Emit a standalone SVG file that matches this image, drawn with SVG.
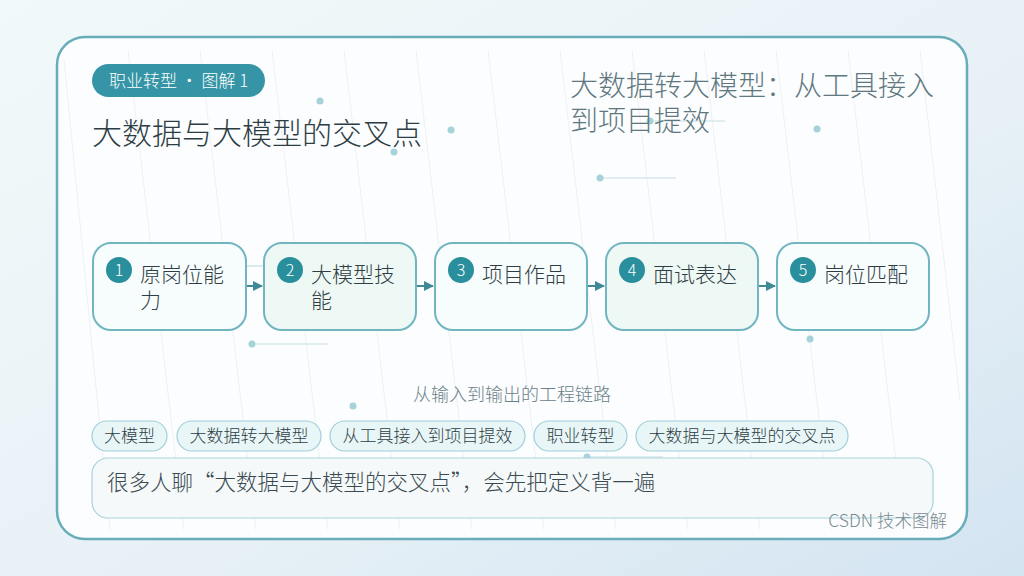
<svg xmlns="http://www.w3.org/2000/svg" width="1024" height="576" viewBox="0 0 1024 576" xml:lang="zh-CN">
<defs>
<linearGradient id="bg" x1="0" y1="0" x2="1" y2="1">
<stop offset="0" stop-color="#f2f9fa"/>
<stop offset="0.6" stop-color="#e6f0f6"/>
<stop offset="1" stop-color="#d3e4f1"/>
</linearGradient>
<marker id="arr" viewBox="0 0 10 10" refX="9" refY="5" markerWidth="5" markerHeight="5" orient="auto">
<path d="M0,0 L10,5 L0,10 z" fill="#3f8a96"/>
</marker>
<style>
text{font-family:"Noto Sans CJK SC","Noto Sans",sans-serif;font-weight:300}
.node{fill:#f7fcfd;stroke:#70b5c0;stroke-width:2}
.alt{fill:#eef8f4}
.badge{fill:#2a8f9d}
.num{fill:#ffffff;font-size:16px;text-anchor:middle}
.lbl{fill:#2f3e44;font-size:21px}
.tag rect{fill:#e9f6f8;stroke:#a0d0d8;stroke-width:1.2}
.tag text{fill:#2f3e44;font-size:17px;text-anchor:middle}
.dot{fill:#a6d2da}
.dl{stroke:#c4e0e6;stroke-width:1.2}
.stripe{stroke:#edf1f3;stroke-width:1}
</style>
</defs>
<rect width="1024" height="576" fill="url(#bg)"/>
<rect x="57" y="37" width="910" height="502" rx="28" fill="#fcfdfe" stroke="#69adba" stroke-width="2.5"/>
<g id="stripes">
<line class="stripe" x1="128" y1="50" x2="184" y2="530"/>
<line class="stripe" x1="200" y1="50" x2="256" y2="530"/>
<line class="stripe" x1="272" y1="50" x2="328" y2="530"/>
<line class="stripe" x1="344" y1="50" x2="400" y2="530"/>
<line class="stripe" x1="416" y1="50" x2="472" y2="530"/>
<line class="stripe" x1="488" y1="50" x2="544" y2="530"/>
<line class="stripe" x1="560" y1="50" x2="616" y2="530"/>
<line class="stripe" x1="632" y1="50" x2="688" y2="530"/>
<line class="stripe" x1="704" y1="50" x2="760" y2="530"/>
<line class="stripe" x1="776" y1="50" x2="832" y2="530"/>
<line class="stripe" x1="848" y1="50" x2="904" y2="530"/>
<line class="stripe" x1="920" y1="50" x2="960" y2="400"/>
<line class="stripe" x1="64" y1="60" x2="110" y2="530"/>
</g>
<g id="decor">
<circle class="dot" cx="320" cy="101" r="3.5"/>
<circle class="dot" cx="451" cy="130" r="3.5"/>
<circle class="dot" cx="394" cy="152" r="3.5"/>
<line class="dl" x1="650" y1="121" x2="725" y2="121"/>
<circle class="dot" cx="650" cy="121" r="3.5"/>
<circle class="dot" cx="817" cy="129" r="3.5"/>
<line class="dl" x1="600" y1="178" x2="676" y2="178"/>
<circle class="dot" cx="600" cy="178" r="3.5"/>
<line class="dl" x1="247" y1="266" x2="264" y2="266"/>
<line class="dl" x1="252" y1="344" x2="328" y2="344"/>
<circle class="dot" cx="252" cy="344" r="3.5"/>
<circle class="dot" cx="810" cy="339" r="3.5"/>
<circle class="dot" cx="353" cy="406" r="3.5"/>
<line class="dl" x1="587" y1="457" x2="663" y2="457"/>
<circle class="dot" cx="587" cy="457" r="3.5"/>
</g>
<g id="header">
<rect x="92" y="64" width="173" height="33" rx="16.5" fill="#3595a6"/>
<text x="109" y="87" fill="#ffffff" font-size="17">职业转型 · 图解 1</text>
<text x="92" y="144" fill="#2d3d44" font-size="30">大数据与大模型的交叉点</text>
<text x="570" y="96" fill="#5f7880" font-size="28">大数据转大模型：从工具接入</text>
<text x="570" y="131" fill="#5f7880" font-size="28">到项目提效</text>
</g>
<g id="connectors">
<line x1="246" y1="286" x2="262" y2="286" stroke="#3f8a96" stroke-width="2" marker-end="url(#arr)"/>
<line x1="417" y1="286" x2="433" y2="286" stroke="#3f8a96" stroke-width="2" marker-end="url(#arr)"/>
<line x1="588" y1="286" x2="604" y2="286" stroke="#3f8a96" stroke-width="2" marker-end="url(#arr)"/>
<line x1="759" y1="286" x2="775" y2="286" stroke="#3f8a96" stroke-width="2" marker-end="url(#arr)"/>
</g>
<g id="node1">
<rect class="node" x="93" y="243" width="153" height="87" rx="18"/>
<circle class="badge" cx="119" cy="270" r="13"/>
<text class="num" x="119" y="276">1</text>
<text class="lbl" x="140" y="282">原岗位能</text>
<text class="lbl" x="140" y="308">力</text>
</g>
<g id="node2">
<rect class="node alt" x="264" y="243" width="152" height="87" rx="18"/>
<circle class="badge" cx="290" cy="270" r="13"/>
<text class="num" x="290" y="276">2</text>
<text class="lbl" x="311" y="282">大模型技</text>
<text class="lbl" x="311" y="308">能</text>
</g>
<g id="node3">
<rect class="node" x="435" y="243" width="152" height="87" rx="18"/>
<circle class="badge" cx="461" cy="270" r="13"/>
<text class="num" x="461" y="276">3</text>
<text class="lbl" x="482" y="282">项目作品</text>
</g>
<g id="node4">
<rect class="node alt" x="606" y="243" width="152" height="87" rx="18"/>
<circle class="badge" cx="632" cy="270" r="13"/>
<text class="num" x="632" y="276">4</text>
<text class="lbl" x="653" y="282">面试表达</text>
</g>
<g id="node5">
<rect class="node" x="777" y="243" width="152" height="87" rx="18"/>
<circle class="badge" cx="803" cy="270" r="13"/>
<text class="num" x="803" y="276">5</text>
<text class="lbl" x="824" y="282">岗位匹配</text>
</g>
<text x="512" y="401" fill="#6b8088" font-size="18" text-anchor="middle">从输入到输出的工程链路</text>
<g id="tags">
<g class="tag"><rect x="92" y="421" width="75" height="30" rx="15"/><text x="129.5" y="442">大模型</text></g>
<g class="tag"><rect x="177" y="421" width="144" height="30" rx="15"/><text x="249" y="442">大数据转大模型</text></g>
<g class="tag"><rect x="330" y="421" width="195" height="30" rx="15"/><text x="427.5" y="442">从工具接入到项目提效</text></g>
<g class="tag"><rect x="534" y="421" width="93" height="30" rx="15"/><text x="580.5" y="442">职业转型</text></g>
<g class="tag"><rect x="636" y="421" width="212" height="30" rx="15"/><text x="742" y="442">大数据与大模型的交叉点</text></g>
</g>
<g id="note">
<rect x="92" y="458" width="841" height="60" rx="16" fill="#f5f9fa" stroke="#a9d3da" stroke-width="1.2"/>
<text x="107" y="490" fill="#3a4a50" font-size="21.5">很多人聊“大数据与大模型的交叉点”，会先把定义背一遍</text>
</g>
<text x="947" y="527" fill="#7a8c93" font-size="17.5" text-anchor="end">CSDN 技术图解</text>
</svg>
